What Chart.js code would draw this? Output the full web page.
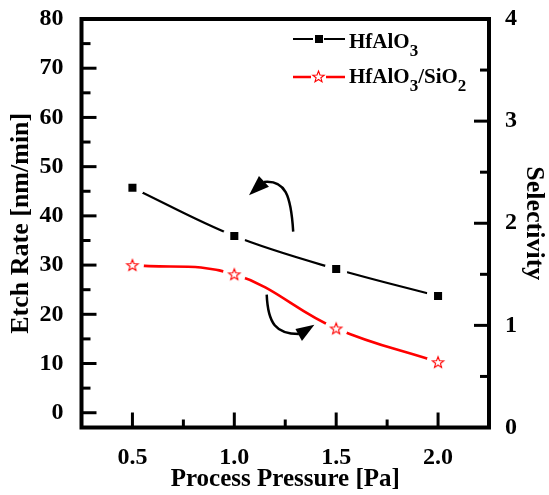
<!DOCTYPE html>
<html>
<head>
<meta charset="utf-8">
<script src="https://cdn.jsdelivr.net/npm/chart.js@4.4.1/dist/chart.umd.min.js"></script>
<style>
  body { margin: 0; background: #fff; }
  #wrap { width: 549px; height: 495px; }
</style>
</head>
<body>
<div id="wrap"><canvas id="chart" width="549" height="495"></canvas></div>
<script>
var pressure = [0.5, 1.0, 1.5, 2.0];
var etchRate = [45.7, 35.9, 29.2, 23.7];
var selectivity = [1.59, 1.50, 0.97, 0.64];
var xTicks = [0.5, 1.0, 1.5, 2.0];
var leftTicks = [0, 10, 20, 30, 40, 50, 60, 70, 80];
var rightTicks = [0, 1, 2, 3, 4];

// curved arrows in data units (pressure, etch rate)
var arrowUp = { curve: [[1.289, 36.8], [1.278, 44.3], [1.249, 47.3], [1.146, 46.9]],
                head: [[1.072, 44.2], [1.121, 48.1], [1.170, 45.9]] };
var arrowDown = { curve: [[1.159, 24.0], [1.165, 18.1], [1.205, 16.0], [1.317, 16.0]],
                  head: [[1.393, 17.9], [1.300, 17.0], [1.332, 14.6]] };

var serif = '"Liberation Serif", "Times New Roman", serif';

function drawStar(ctx, cx, cy, r) {
    ctx.beginPath();
    for (var i = 0; i < 10; i++) {
        var rr = i % 2 === 0 ? r : r * 0.42;
        var a = -Math.PI / 2 + i * Math.PI / 5;
        var px = cx + rr * Math.cos(a), py = cy + rr * Math.sin(a);
        if (i === 0) ctx.moveTo(px, py); else ctx.lineTo(px, py);
    }
    ctx.closePath();
    ctx.fillStyle = '#fff';
    ctx.fill();
    ctx.strokeStyle = '#ff0000';
    ctx.lineWidth = 1.1;
    ctx.stroke();
}

var starImg = document.createElement('canvas');
starImg.width = 16;
starImg.height = 16;
drawStar(starImg.getContext('2d'), 8, 8.5, 6);

function toPts(data) {
    return pressure.map(function(p, i) { return { x: p, y: data[i] }; });
}

function px(chart, pt) {
    return [chart.scales.x.getPixelForValue(pt[0]), chart.scales.y.getPixelForValue(pt[1])];
}

function drawArrow(ctx, chart, arrow) {
    var c = arrow.curve.map(function(p) { return px(chart, p); });
    ctx.beginPath();
    ctx.moveTo(c[0][0], c[0][1]);
    ctx.bezierCurveTo(c[1][0], c[1][1], c[2][0], c[2][1], c[3][0], c[3][1]);
    ctx.strokeStyle = '#000';
    ctx.lineWidth = 2.5;
    ctx.stroke();
    var h = arrow.head.map(function(p) { return px(chart, p); });
    ctx.beginPath();
    ctx.moveTo(h[0][0], h[0][1]);
    ctx.lineTo(h[1][0], h[1][1]);
    ctx.lineTo(h[2][0], h[2][1]);
    ctx.closePath();
    ctx.fillStyle = '#000';
    ctx.fill();
}

function drawLegendText(ctx, x, y, parts) {
    ctx.textBaseline = 'alphabetic';
    ctx.textAlign = 'left';
    ctx.fillStyle = '#000';
    parts.forEach(function(p) {
        ctx.font = 'bold ' + (p.sub ? 17 : 21) + 'px ' + serif;
        ctx.fillText(p.t, x, p.sub ? y + 8 : y);
        x += ctx.measureText(p.t).width;
    });
}

function inwardTicks(ctx, scale, values, len, side, area) {
    values.forEach(function(v) {
        var p = scale.getPixelForValue(v);
        ctx.beginPath();
        if (side === 'left') { ctx.moveTo(area.left, p); ctx.lineTo(area.left + len, p); }
        if (side === 'right') { ctx.moveTo(area.right, p); ctx.lineTo(area.right - len, p); }
        if (side === 'bottom') { ctx.moveTo(p, area.bottom); ctx.lineTo(p, area.bottom - len); }
        ctx.stroke();
    });
}

function noPad(s) {
    s.paddingTop = 0;
    s.paddingBottom = 0;
    s.paddingLeft = 0;
    s.paddingRight = 0;
}

var decorations = {
    id: 'decorations',
    afterDraw: function(chart) {
        var ctx = chart.ctx;
        var a = chart.chartArea;
        ctx.save();
        ctx.strokeStyle = '#000';
        ctx.lineWidth = 3;
        inwardTicks(ctx, chart.scales.y, leftTicks, 15, 'left', a);
        inwardTicks(ctx, chart.scales.y, leftTicks.slice(0, -1).map(function(v) { return v + 5; }), 9, 'left', a);
        inwardTicks(ctx, chart.scales.y2, rightTicks, 15, 'right', a);
        inwardTicks(ctx, chart.scales.y2, rightTicks.slice(0, -1).map(function(v) { return v + 0.5; }), 9, 'right', a);
        inwardTicks(ctx, chart.scales.x, xTicks, 15, 'bottom', a);
        inwardTicks(ctx, chart.scales.x, [0.75, 1.25, 1.75], 8, 'bottom', a);
        ctx.lineWidth = 4;
        ctx.strokeRect(a.left, a.top, a.right - a.left, a.bottom - a.top);

        // legend
        ctx.lineWidth = 2;
        ctx.strokeStyle = '#000';
        ctx.beginPath(); ctx.moveTo(293, 39); ctx.lineTo(313, 39); ctx.moveTo(324, 39); ctx.lineTo(345, 39); ctx.stroke();
        ctx.fillStyle = '#000';
        ctx.fillRect(315, 35, 8, 8);
        drawLegendText(ctx, 349, 48, [{ t: 'HfAlO' }, { t: '3', sub: true }]);
        ctx.lineWidth = 2.5;
        ctx.strokeStyle = '#ff0000';
        ctx.beginPath(); ctx.moveTo(293, 77); ctx.lineTo(311, 77); ctx.moveTo(326, 77); ctx.lineTo(345, 77); ctx.stroke();
        drawStar(ctx, 318.5, 77, 6);
        drawLegendText(ctx, 349, 83, [{ t: 'HfAlO' }, { t: '3', sub: true }, { t: '/SiO' }, { t: '2', sub: true }]);

        drawArrow(ctx, chart, arrowUp);
        drawArrow(ctx, chart, arrowDown);
        ctx.restore();
    }
};

var ctx = document.getElementById('chart').getContext('2d');
var chart = new Chart(ctx, {
    type: 'scatter',
    data: {
        datasets: [
            { label: 'HfAlO3', data: toPts(etchRate), yAxisID: 'y', showLine: false,
              pointStyle: 'rect', pointRadius: 5.7, pointBackgroundColor: '#000', pointBorderColor: '#000', pointBorderWidth: 0, order: 0 },
            { label: 'HfAlO3/SiO2', data: toPts(selectivity), yAxisID: 'y2', showLine: false,
              pointStyle: starImg, pointRadius: 8, order: 0 },
            { label: 'halo1', data: toPts(etchRate), yAxisID: 'y', showLine: false,
              pointStyle: 'circle', pointRadius: 11, pointBackgroundColor: '#ffffff', pointBorderColor: '#ffffff', pointBorderWidth: 1, order: 1 },
            { label: 'halo2', data: toPts(selectivity), yAxisID: 'y2', showLine: false,
              pointStyle: 'circle', pointRadius: 11, pointBackgroundColor: '#ffffff', pointBorderColor: '#ffffff', pointBorderWidth: 1, order: 1 },
            { label: 'line1', data: toPts(etchRate), yAxisID: 'y', showLine: true, pointRadius: 0,
              borderColor: '#000', borderWidth: 2.2, tension: 0.35, order: 2 },
            { label: 'line2', data: toPts(selectivity), yAxisID: 'y2', showLine: true, pointRadius: 0,
              borderColor: '#ff0000', borderWidth: 2.6, tension: 0.4, order: 2 }
        ]
    },
    options: {
        responsive: false,
        animation: false,
        layout: { padding: { top: 19, left: 0, right: 0, bottom: 0 } },
        plugins: { legend: { display: false }, tooltip: { enabled: false } },
        elements: { point: { hoverRadius: 0 } },
        scales: {
            x: {
                type: 'linear', min: 0.25, max: 2.25,
                afterBuildTicks: function(s) { s.ticks = xTicks.map(function(v) { return { value: v }; }); },
                afterFit: function(s) { s.height = 67.5; noPad(s); },
                grid: { display: false, drawTicks: false },
                border: { display: false },
                ticks: { padding: 16, color: '#000', font: { family: serif, size: 24, weight: 'bold' },
                         callback: function(v) { return v.toFixed(1); } },
                title: { display: true, text: 'Process Pressure [Pa]', color: '#000', padding: { top: 0, bottom: 0 },
                         font: { family: serif, size: 25, weight: 'bold' } }
            },
            y: {
                position: 'left', min: -3, max: 80,
                afterBuildTicks: function(s) { s.ticks = leftTicks.map(function(v) { return { value: v }; }); },
                afterFit: function(s) { s.width = 81.5; noPad(s); },
                grid: { display: false, drawTicks: false },
                border: { display: false },
                ticks: { padding: 18, color: '#000', font: { family: serif, size: 24, weight: 'bold' } },
                title: { display: true, text: 'Etch Rate [nm/min]', color: '#000', padding: { top: 6, bottom: 0 },
                         font: { family: serif, size: 26, weight: 'bold' } }
            },
            y2: {
                position: 'right', min: 0, max: 4,
                afterBuildTicks: function(s) { s.ticks = rightTicks.map(function(v) { return { value: v }; }); },
                afterFit: function(s) { s.width = 60; noPad(s); },
                grid: { display: false, drawTicks: false },
                border: { display: false },
                ticks: { padding: 16, color: '#000', font: { family: serif, size: 24, weight: 'bold' } },
                title: { display: true, text: 'Selectivity', color: '#000', padding: { top: 0, bottom: 0 },
                         font: { family: serif, size: 26, weight: 'bold' } }
            }
        }
    },
    plugins: [decorations]
});
</script>
</body>
</html>
